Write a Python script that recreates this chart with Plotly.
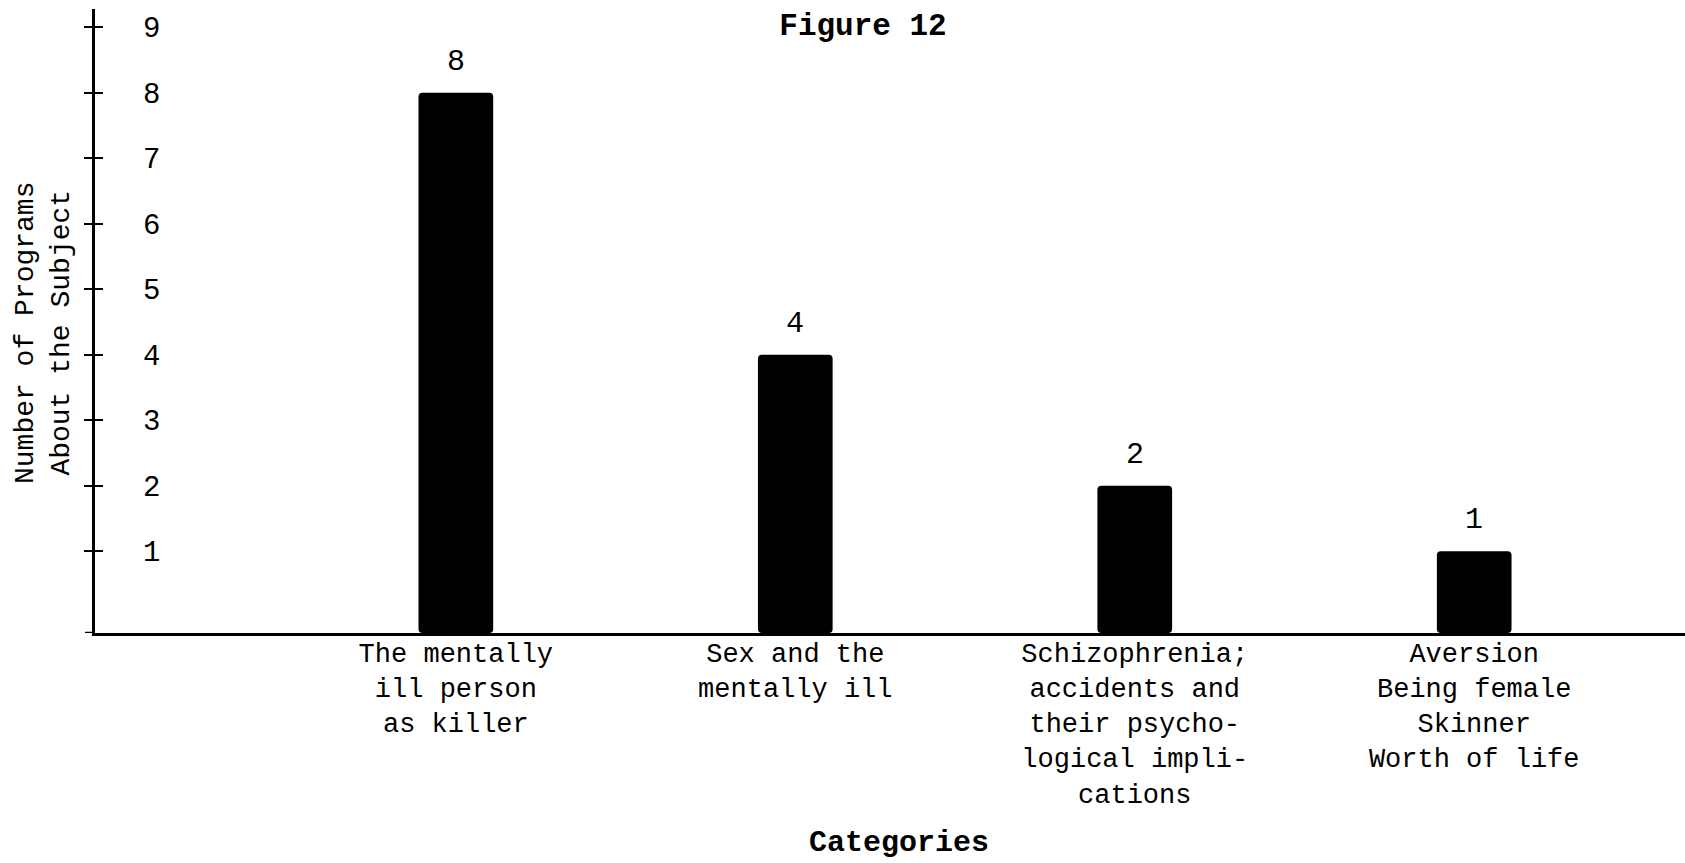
import plotly.graph_objects as go

# ---- data ----
categories = [
    "The mentally<br>ill person<br>as killer",
    "Sex and the<br>mentally ill",
    "Schizophrenia;<br>accidents and<br>their psycho-<br>logical impli-<br>cations",
    "Aversion<br>Being female<br>Skinner<br>Worth of life",
]
values = [8, 4, 2, 1]
y_ticks = [1, 2, 3, 4, 5, 6, 7, 8, 9]
title_text = "Figure 12"
x_title = "Categories"
y_title = "Number of Programs<br>About the Subject"

# ---- style constants ----
FONT = "Liberation Mono, Courier New, monospace"
Y_FLOOR = -0.25
Y_TOP = 9.28
W, H = 1685, 863
ML, MR, MT, MB = 95, 0, 9, 230
PW, PH = W - ML - MR, H - MT - MB

fig = go.Figure()
fig.add_trace(go.Bar(
    x=categories,
    y=[v - Y_FLOOR for v in values],
    base=Y_FLOOR,
    width=0.22,
    marker=dict(color="black", line=dict(width=0), cornerradius=4),
    showlegend=False,
    hoverinfo="skip",
))
# carrier for the inside half of the crossing ticks
fig.add_trace(go.Scatter(x=[categories[0]], y=[None], yaxis="y2",
                         showlegend=False, hoverinfo="skip"))

for c, v in zip(categories, values):
    fig.add_annotation(x=c, y=v, xref="x", yref="y", text=str(v),
                       showarrow=False, yanchor="middle", yshift=31,
                       font=dict(family=FONT, size=30, color="black"))

# axis titles
fig.add_annotation(text=y_title, xref="paper", yref="paper",
                   x=(44 - ML) / PW, y=(H - MB - 333) / PH,
                   xanchor="center", yanchor="middle", textangle=-90,
                   showarrow=False,
                   font=dict(family=FONT, size=28, color="black"))
fig.add_annotation(text=x_title, xref="paper", yref="paper",
                   x=(899 - ML) / PW, y=(H - MB - 843) / PH,
                   xanchor="center", yanchor="middle", showarrow=False,
                   font=dict(family=FONT, size=30, color="black", weight="bold"))

# baseline extension to the left of the y axis
fig.add_shape(type="line", xref="paper", yref="y",
              x0=-10 / PW, x1=0, y0=Y_FLOOR, y1=Y_FLOOR,
              line=dict(color="black", width=2.5))

fig.update_layout(
    width=W, height=H,
    margin=dict(l=ML, r=MR, t=MT, b=MB, pad=0, autoexpand=False),
    paper_bgcolor="white", plot_bgcolor="white",
    font=dict(family=FONT, color="black"),
    title=dict(text=title_text, x=(863 - ML) / PW, xref="paper",
               xanchor="center", y=1 - 24 / H, yanchor="middle",
               font=dict(family=FONT, size=31, color="black", weight="bold")),
    xaxis=dict(
        range=[-1.063, 3.621],
        automargin=False,
        showgrid=False, zeroline=False,
        showline=True, linecolor="black", linewidth=2.5,
        ticks="", ticklabelstandoff=-6,
        tickfont=dict(family=FONT, size=27, color="black"),
    ),
    yaxis=dict(
        range=[Y_FLOOR, Y_TOP],
        automargin=False,
        tickvals=y_ticks,
        showgrid=False, zeroline=False,
        showline=True, linecolor="black", linewidth=2.5,
        ticks="outside", ticklen=8, tickwidth=2, tickcolor="black",
        ticklabelposition="inside", ticklabelstandoff=51,
        tickfont=dict(family=FONT, size=29, color="black"),
    ),
    yaxis2=dict(
        range=[Y_FLOOR, Y_TOP], overlaying="y", side="left", anchor="x",
        automargin=False,
        tickvals=y_ticks, showticklabels=False, showgrid=False,
        zeroline=False, showline=False,
        ticks="inside", ticklen=8, tickwidth=2, tickcolor="black",
    ),
)

fig.write_html("out.html",
               config={"displayModeBar": False},
               post_script="document.body.style.margin='0';")
